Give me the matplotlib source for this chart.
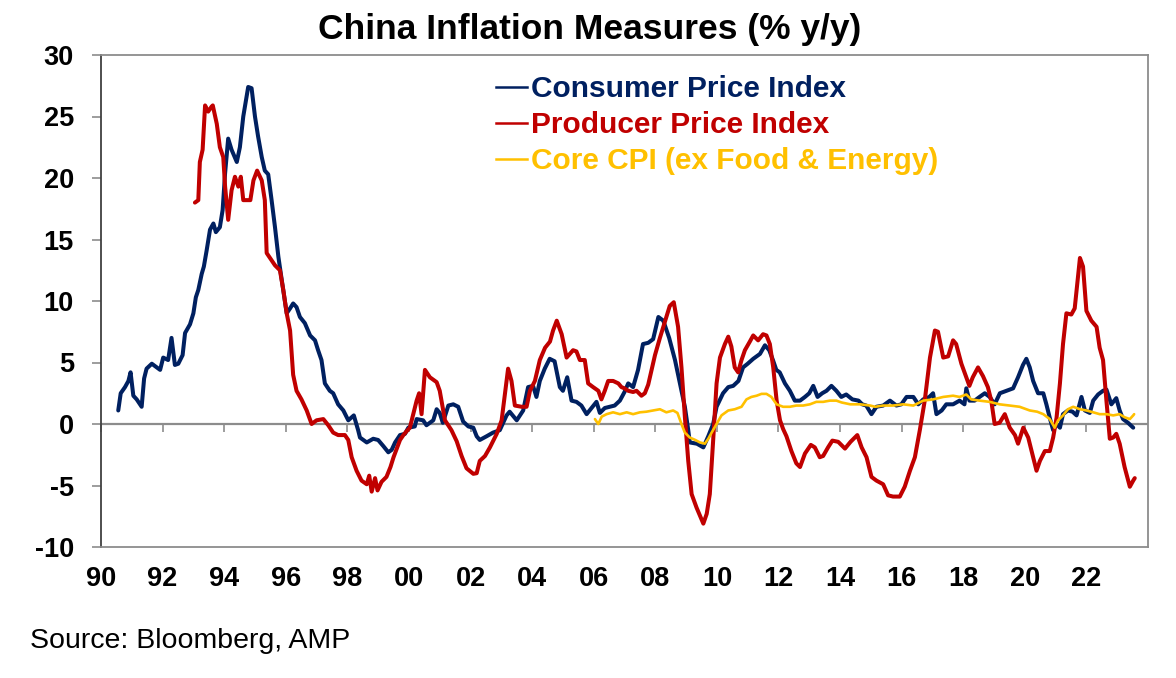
import matplotlib
matplotlib.use("Agg")
import matplotlib.pyplot as plt
from matplotlib.lines import Line2D

plt.rcParams['font.family'] = ['Liberation Sans', 'DejaVu Sans']

# ---------------- data (decimal year, % y/y) ----------------
cpi_dates = [1990.56, 1990.64, 1990.78, 1990.89, 1990.96, 1991.05, 1991.16, 1991.32, 1991.40, 1991.48,
             1991.65, 1991.81, 1991.92, 1992.02, 1992.18, 1992.29, 1992.40, 1992.51, 1992.65, 1992.73,
             1992.89, 1993.00, 1993.08, 1993.16, 1993.27, 1993.34, 1993.43, 1993.54, 1993.65, 1993.73,
             1993.86, 1993.95, 1994.03, 1994.13, 1994.24, 1994.41, 1994.51, 1994.62, 1994.78, 1994.89,
             1995.00, 1995.10, 1995.22, 1995.32, 1995.43, 1995.54, 1995.65, 1995.76, 1995.87, 1996.03,
             1996.14, 1996.24, 1996.35, 1996.46, 1996.62, 1996.79, 1996.95, 1997.05, 1997.16, 1997.27,
             1997.43, 1997.54, 1997.70, 1997.87, 1998.03, 1998.21, 1998.35, 1998.41, 1998.63, 1998.84,
             1999.00, 1999.17, 1999.33, 1999.44, 1999.55, 1999.71, 1999.87, 1999.98, 2000.19, 2000.25,
             2000.46, 2000.57, 2000.79, 2000.90, 2001.00, 2001.10, 2001.28, 2001.44, 2001.60, 2001.76,
             2001.93, 2002.09, 2002.20, 2002.30, 2002.52, 2002.73, 2002.95, 2003.17, 2003.27, 2003.50,
             2003.71, 2003.87, 2004.03, 2004.14, 2004.25, 2004.41, 2004.57, 2004.73, 2004.90, 2005.00,
             2005.14, 2005.28, 2005.44, 2005.60, 2005.77, 2005.93, 2006.09, 2006.20, 2006.36, 2006.52,
             2006.68, 2006.85, 2007.00, 2007.12, 2007.28, 2007.44, 2007.60, 2007.77, 2007.93, 2008.10,
             2008.26, 2008.45, 2008.64, 2008.80, 2008.96, 2009.07, 2009.12, 2009.35, 2009.56, 2009.72,
             2009.88, 2009.99, 2010.20, 2010.37, 2010.53, 2010.70, 2010.85, 2011.00, 2011.18, 2011.40,
             2011.56, 2011.70, 2011.82, 2011.93, 2012.04, 2012.21, 2012.37, 2012.53, 2012.70, 2012.86,
             2013.00, 2013.13, 2013.27, 2013.42, 2013.56, 2013.72, 2013.88, 2014.04, 2014.20, 2014.40,
             2014.60, 2014.72, 2014.85, 2015.02, 2015.18, 2015.40, 2015.62, 2015.83, 2015.99, 2016.16,
             2016.38, 2016.54, 2016.70, 2016.90, 2017.02, 2017.13, 2017.30, 2017.45, 2017.67, 2017.88,
             2018.04, 2018.10, 2018.20, 2018.37, 2018.53, 2018.70, 2018.86, 2019.02, 2019.19, 2019.40,
             2019.62, 2019.78, 2019.94, 2020.05, 2020.16, 2020.27, 2020.43, 2020.60, 2020.70, 2020.81,
             2020.92, 2021.03, 2021.14, 2021.24, 2021.40, 2021.55, 2021.68, 2021.84, 2021.95, 2022.11,
             2022.22, 2022.38, 2022.54, 2022.65, 2022.81, 2022.97, 2023.08, 2023.19, 2023.35, 2023.52]
cpi_values = [1.1, 2.5, 3.0, 3.5, 4.2, 2.3, 2.0, 1.4, 3.7, 4.5,
              4.9, 4.6, 4.4, 5.4, 5.2, 7.0, 4.8, 4.9, 5.6, 7.4,
              8.1, 9.0, 10.3, 10.9, 12.2, 12.8, 14.1, 15.8, 16.3, 15.6,
              16.0, 17.4, 20.4, 23.2, 22.3, 21.3, 22.5, 25.0, 27.4, 27.3,
              25.0, 23.4, 21.7, 20.6, 20.3, 18.2, 16.0, 13.6, 11.7, 9.0,
              9.4, 9.8, 9.5, 8.7, 8.2, 7.2, 6.8, 6.0, 5.2, 3.3,
              2.7, 2.5, 1.6, 1.1, 0.3, 0.7, -0.5, -1.1, -1.5, -1.2,
              -1.3, -1.8, -2.3, -2.1, -1.5, -0.9, -0.8, -0.3, -0.2, 0.4,
              0.3, -0.1, 0.3, 1.2, 0.9, 0.1, 1.5, 1.6, 1.4, 0.2,
              -0.2, -0.3, -1.0, -1.3, -1.0, -0.7, -0.5, 0.7, 1.0, 0.3,
              1.1, 3.0, 3.1, 2.2, 3.5, 4.5, 5.3, 5.1, 3.0, 2.7,
              3.8, 1.9, 1.8, 1.5, 0.8, 1.3, 1.8, 0.9, 1.3, 1.4,
              1.5, 1.9, 2.6, 3.3, 3.0, 4.4, 6.5, 6.6, 6.9, 8.7,
              8.4, 7.0, 5.2, 3.3, 1.4, -0.5, -1.5, -1.6, -1.9, -1.0,
              0.0, 1.4, 2.5, 3.0, 3.1, 3.5, 4.6, 4.9, 5.3, 5.7,
              6.4, 6.0, 5.2, 4.4, 4.2, 3.3, 2.7, 1.9, 1.9, 2.2,
              2.5, 3.1, 2.2, 2.5, 2.7, 3.1, 2.7, 2.2, 2.4, 2.0,
              1.9, 1.6, 1.5, 0.8, 1.4, 1.5, 1.9, 1.5, 1.6, 2.2,
              2.2, 1.6, 2.0, 2.2, 2.5, 0.8, 1.1, 1.6, 1.6, 1.9,
              1.6, 2.9, 1.9, 1.9, 2.2, 2.5, 2.2, 1.6, 2.5, 2.7,
              2.9, 3.8, 4.8, 5.3, 4.6, 3.5, 2.5, 2.5, 1.6, 0.5,
              -0.5, 0.0, -0.3, 0.8, 1.1, 1.0, 0.7, 2.2, 1.1, 0.9,
              1.9, 2.4, 2.7, 2.8, 1.6, 2.1, 1.1, 0.4, 0.1, -0.3]

ppi_dates = [1993.05, 1993.16, 1993.21, 1993.30, 1993.38, 1993.48, 1993.59, 1993.63, 1993.76, 1993.86,
             1993.97, 1994.03, 1994.13, 1994.24, 1994.35, 1994.46, 1994.54, 1994.62, 1994.73, 1994.85,
             1994.95, 1995.07, 1995.22, 1995.32, 1995.38, 1995.54, 1995.65, 1995.81, 1995.92, 1996.03,
             1996.14, 1996.24, 1996.35, 1996.51, 1996.68, 1996.84, 1997.00, 1997.22, 1997.38, 1997.54,
             1997.70, 1997.92, 1998.03, 1998.14, 1998.30, 1998.46, 1998.63, 1998.71, 1998.79, 1998.90,
             1998.98, 1999.11, 1999.27, 1999.40, 1999.50, 1999.71, 1999.82, 1999.92, 2000.03, 2000.14,
             2000.25, 2000.33, 2000.41, 2000.52, 2000.68, 2000.90, 2001.00, 2001.17, 2001.38, 2001.55,
             2001.71, 2001.87, 2002.09, 2002.20, 2002.30, 2002.47, 2002.63, 2002.85, 2003.01, 2003.12,
             2003.22, 2003.33, 2003.44, 2003.66, 2003.82, 2003.93, 2004.09, 2004.25, 2004.42, 2004.58,
             2004.68, 2004.80, 2004.96, 2005.12, 2005.33, 2005.44, 2005.55, 2005.71, 2005.82, 2005.98,
             2006.15, 2006.25, 2006.36, 2006.47, 2006.63, 2006.80, 2006.90, 2007.00, 2007.12, 2007.28,
             2007.39, 2007.55, 2007.66, 2007.77, 2007.88, 2007.99, 2008.15, 2008.31, 2008.47, 2008.60,
             2008.74, 2008.85, 2008.96, 2009.07, 2009.18, 2009.34, 2009.56, 2009.67, 2009.77, 2009.88,
             2009.99, 2010.10, 2010.26, 2010.37, 2010.47, 2010.58, 2010.69, 2010.80, 2010.91, 2011.07,
             2011.18, 2011.34, 2011.50, 2011.61, 2011.72, 2011.83, 2011.94, 2012.05, 2012.15, 2012.26,
             2012.42, 2012.58, 2012.70, 2012.86, 2013.05, 2013.18, 2013.34, 2013.45, 2013.61, 2013.75,
             2013.94, 2014.16, 2014.34, 2014.56, 2014.70, 2014.86, 2015.02, 2015.18, 2015.40, 2015.56,
             2015.72, 2015.94, 2016.10, 2016.27, 2016.43, 2016.59, 2016.75, 2016.92, 2017.08, 2017.18,
             2017.35, 2017.51, 2017.67, 2017.77, 2017.94, 2018.10, 2018.20, 2018.31, 2018.48, 2018.64,
             2018.80, 2018.91, 2019.02, 2019.18, 2019.35, 2019.51, 2019.68, 2019.78, 2019.95, 2020.11,
             2020.27, 2020.38, 2020.49, 2020.65, 2020.81, 2020.92, 2021.03, 2021.14, 2021.24, 2021.35,
             2021.51, 2021.62, 2021.73, 2021.79, 2021.89, 2022.00, 2022.16, 2022.33, 2022.43, 2022.54,
             2022.65, 2022.76, 2022.87, 2022.97, 2023.08, 2023.24, 2023.41, 2023.52, 2023.57]
ppi_values = [18.0, 18.2, 21.3, 22.3, 25.9, 25.4, 25.8, 25.9, 24.4, 22.5,
              21.7, 19.3, 16.6, 19.0, 20.1, 19.3, 20.1, 18.2, 18.2, 18.2,
              19.8, 20.6, 19.8, 18.2, 13.9, 13.3, 12.9, 12.5, 10.9, 9.0,
              7.6, 4.0, 2.7, 2.0, 1.1, 0.0, 0.3, 0.4, -0.1, -0.7,
              -0.9, -0.9, -1.3, -2.7, -3.8, -4.6, -4.9, -4.2, -5.5, -4.4,
              -5.4, -4.7, -4.3, -3.5, -2.7, -1.3, -0.9, -0.6, -0.3, 0.8,
              1.9, 2.5, 0.8, 4.4, 3.8, 3.4, 2.7, 0.3, -0.5, -1.4,
              -2.6, -3.6, -4.05, -4.0, -3.0, -2.6, -1.9, -0.8, 0.3, 2.5,
              4.5, 3.5, 1.5, 1.4, 1.4, 2.7, 3.5, 5.2, 6.2, 6.7,
              7.6, 8.4, 7.3, 5.4, 6.0, 5.9, 5.2, 5.2, 3.3, 3.0,
              2.7, 2.0, 2.7, 3.5, 3.5, 3.3, 3.0, 2.9, 2.7, 2.6,
              2.7, 2.3, 2.5, 3.2, 4.4, 5.6, 7.0, 8.3, 9.6, 9.9,
              7.9, 4.6, 0.6, -3.0, -5.7, -6.8, -8.1, -7.3, -5.7, -1.3,
              3.3, 5.4, 6.5, 7.1, 6.3, 4.6, 4.2, 5.2, 6.0, 6.7,
              7.2, 6.8, 7.3, 7.2, 6.5, 4.6, 1.9, 0.3, -0.4, -1.0,
              -2.2, -3.2, -3.5, -2.4, -1.7, -1.9, -2.7, -2.6, -1.9, -1.35,
              -1.45, -2.0, -1.45, -0.9, -1.9, -2.7, -4.3, -4.6, -4.9, -5.8,
              -5.9, -5.9, -5.1, -3.8, -2.7, -0.5, 1.9, 5.4, 7.6, 7.5,
              5.4, 5.5, 6.8, 6.5, 4.9, 3.8, 3.1, 3.8, 4.6, 3.9,
              3.0, 1.9, 0.0, 0.1, 0.8, -0.3, -0.9, -1.6, -0.3, -1.1,
              -2.7, -3.8, -3.0, -2.2, -2.2, -1.1, 0.5, 3.3, 6.5, 9.0,
              8.9, 9.4, 12.0, 13.5, 12.8, 9.2, 8.4, 7.9, 6.2, 5.2,
              1.9, -1.2, -1.1, -0.8, -1.6, -3.5, -5.1, -4.6, -4.4]

core_dates = [2006.04, 2006.15, 2006.26, 2006.42, 2006.63, 2006.85, 2007.07, 2007.28, 2007.50, 2007.71,
              2007.93, 2008.15, 2008.36, 2008.58, 2008.72, 2008.85, 2008.96, 2009.12, 2009.30, 2009.45,
              2009.61, 2009.72, 2009.83, 2009.99, 2010.15, 2010.37, 2010.58, 2010.80, 2010.96, 2011.12,
              2011.29, 2011.45, 2011.61, 2011.77, 2011.94, 2012.15, 2012.37, 2012.58, 2012.80, 2013.02,
              2013.23, 2013.45, 2013.67, 2013.88, 2014.05, 2014.33, 2014.65, 2014.98, 2015.14, 2015.40,
              2015.72, 2016.05, 2016.38, 2016.70, 2017.02, 2017.35, 2017.67, 2017.88, 2018.10, 2018.26,
              2018.53, 2018.86, 2019.18, 2019.51, 2019.83, 2020.16, 2020.40, 2020.60, 2020.81, 2020.97,
              2021.08, 2021.24, 2021.40, 2021.57, 2021.79, 2022.00, 2022.22, 2022.43, 2022.65, 2022.87,
              2023.08, 2023.24, 2023.41, 2023.52, 2023.55]
core_values = [0.4, 0.0, 0.6, 0.8, 0.95, 0.8, 0.95, 0.8, 0.95, 1.0,
               1.1, 1.2, 0.95, 1.1, 0.9, 0.0, -0.7, -1.1, -1.3, -1.5,
               -1.6, -1.2, -0.7, 0.0, 0.7, 1.1, 1.2, 1.4, 2.0, 2.2,
               2.3, 2.45, 2.45, 2.2, 1.6, 1.4, 1.4, 1.5, 1.5, 1.6,
               1.8, 1.8, 1.9, 1.9, 1.75, 1.6, 1.6, 1.5, 1.4, 1.5,
               1.5, 1.6, 1.5, 1.9, 2.0, 2.2, 2.3, 2.2, 2.4, 2.0,
               1.9, 1.8, 1.6, 1.5, 1.4, 1.1, 1.0, 0.8, 0.4, -0.3,
               0.3, 0.7, 1.2, 1.4, 1.2, 1.1, 0.95, 0.8, 0.8, 0.7,
               0.8, 0.55, 0.4, 0.7, 0.8]

series_labels = ['Consumer Price Index', 'Producer Price Index', 'Core CPI (ex Food & Energy)']
x_tick_years = list(range(1990, 2023, 2))
x_tick_labels = ['90', '92', '94', '96', '98', '00', '02', '04', '06', '08',
                 '10', '12', '14', '16', '18', '20', '22']
y_ticks = [-10, -5, 0, 5, 10, 15, 20, 25, 30]

# ---------------- styling ----------------
C_CPI = '#002060'
C_PPI = '#C00000'
C_CORE = '#FFC000'
GRID_GREY = '#8C8C8C'

W, H = 1176, 678
fig = plt.figure(figsize=(W / 100, H / 100), dpi=100)
ax = fig.add_axes([101 / W, 131 / H, (1148 - 101) / W, (547 - 55) / H])

ax.axhline(0, color=GRID_GREY, lw=1.6, zorder=1)
ax.plot(cpi_dates, cpi_values, color=C_CPI, lw=2.9, zorder=3,
        solid_joinstyle='round', solid_capstyle='round')
ax.plot(ppi_dates, ppi_values, color=C_PPI, lw=2.9, zorder=4,
        solid_joinstyle='round', solid_capstyle='round')
ax.plot(core_dates, core_values, color=C_CORE, lw=1.9, zorder=5,
        solid_joinstyle='round', solid_capstyle='round')

ax.set_xlim(1990, 2024)
ax.set_ylim(-10, 30)

ax.set_xticks(x_tick_years)
ax.set_xticklabels(x_tick_labels)
ax.tick_params(axis='x', length=0, pad=14, labelsize=19.5)
for t in ax.get_xticklabels():
    t.set_fontweight('bold')

ax.set_yticks(y_ticks)
ax.set_yticklabels([str(v) for v in y_ticks])
ax.tick_params(axis='y', direction='out', length=6.5, width=1.2, color=GRID_GREY,
               pad=13, labelsize=19.5)
for t in ax.get_yticklabels():
    t.set_fontweight('bold')

for side in ['top', 'right', 'bottom']:
    ax.spines[side].set_color(GRID_GREY)
    ax.spines[side].set_linewidth(1.3)
ax.spines['left'].set_color('#404040')
ax.spines['left'].set_linewidth(1.3)

# tick marks on the zero line
sec = ax.secondary_xaxis(0.25)
sec.set_xticks(x_tick_years)
sec.set_xticklabels([''] * len(x_tick_years))
sec.tick_params(axis='x', direction='out', length=5.5, width=1.2, color=GRID_GREY)
sec.spines['bottom'].set_visible(False)

# legend
handles = [Line2D([], [], color=C_CPI, lw=1.8),
           Line2D([], [], color=C_PPI, lw=1.8),
           Line2D([], [], color=C_CORE, lw=1.8)]
leg = ax.legend(handles, series_labels, loc='upper left',
                bbox_to_anchor=(496 / W, 1 - 75 / H), bbox_transform=fig.transFigure,
                frameon=False, handlelength=1.05, handletextpad=0.12, labelspacing=0.27,
                borderaxespad=0, borderpad=0, prop={'weight': 'bold', 'size': 21.5})
for txt, c in zip(leg.get_texts(), [C_CPI, C_PPI, C_CORE]):
    txt.set_color(c)

fig.text(590 / W, 1 - 30 / H, 'China Inflation Measures (% y/y)', ha='center', va='center',
         fontsize=25.5, fontweight='bold', color='black')
fig.text(30 / W, 1 - 641 / H, 'Source: Bloomberg, AMP', ha='left', va='center',
         fontsize=20.5, color='black')

fig.savefig('out.png', dpi=100)
